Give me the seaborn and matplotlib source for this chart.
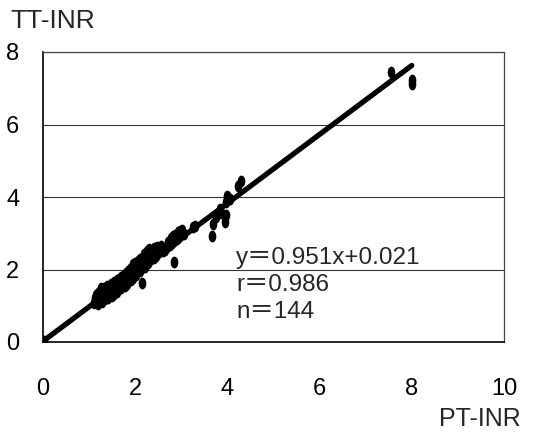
import numpy as np
import pandas as pd
import matplotlib
matplotlib.use('Agg')
import matplotlib.pyplot as plt
import seaborn as sns
from matplotlib.path import Path
from matplotlib.transforms import Affine2D

# PT-INR (x) vs TT-INR (y)
pt_inr = [
    1.10, 1.12, 1.15, 1.15, 1.18, 1.20, 1.20, 1.22, 1.23, 1.25,
    1.25, 1.27, 1.28, 1.30, 1.30, 1.32, 1.33, 1.35, 1.35, 1.37,
    1.38, 1.40, 1.40, 1.42, 1.43, 1.45, 1.45, 1.47, 1.48, 1.50,
    1.50, 1.52, 1.53, 1.55, 1.55, 1.57, 1.58, 1.60, 1.60, 1.62,
    1.63, 1.65, 1.65, 1.67, 1.68, 1.70, 1.70, 1.72, 1.73, 1.75,
    1.75, 1.77, 1.78, 1.80, 1.80, 1.82, 1.83, 1.85, 1.85, 1.87,
    1.88, 1.90, 1.90, 1.92, 1.93, 1.95, 1.95, 1.97, 1.98, 2.00,
    2.00, 2.02, 2.03, 2.05, 2.05, 2.07, 2.08, 2.10, 2.10, 2.12,
    2.15, 2.15, 2.17, 2.18, 2.20, 2.20, 2.22, 2.25, 2.25, 2.27,
    2.28, 2.30, 2.30, 2.32, 2.35, 2.35, 2.37, 2.40, 2.40, 2.42,
    2.45, 2.45, 2.48, 2.50, 2.52, 2.55, 2.57, 2.60, 2.62, 2.65,
    2.70, 2.72, 2.75, 2.77, 2.80, 2.82, 2.85, 2.85, 2.87, 2.90,
    2.92, 2.95, 2.97, 3.00, 3.02, 3.05, 3.25, 3.30,
    3.66, 3.68, 3.75, 3.85, 3.87, 3.95, 3.97, 3.98, 4.00, 4.05,
    4.24, 4.30,
    7.55, 8.00, 8.00, 0.02,
]
tt_inr = [
    1.08, 1.22, 1.12, 1.30, 1.15, 1.36, 1.06, 1.22, 1.42, 1.16,
    1.48, 1.28, 1.10, 1.40, 1.22, 1.50, 1.28, 1.18, 1.44, 1.32,
    1.55, 1.28, 1.46, 1.22, 1.52, 1.38, 1.30, 1.48, 1.60, 1.40,
    1.28, 1.54, 1.66, 1.42, 1.33, 1.58, 1.48, 1.70, 1.38, 1.52,
    1.64, 1.46, 1.74, 1.55, 1.62, 1.80, 1.48, 1.66, 1.56, 1.84,
    1.60, 1.72, 1.54, 1.90, 1.68, 1.76, 1.60, 1.96, 1.78, 1.70,
    2.02, 1.84, 1.72, 2.08, 1.88, 1.76, 2.14, 1.94, 1.84, 2.18,
    1.96, 1.86, 2.08, 2.24, 1.95, 2.12, 2.00, 2.30, 1.96, 2.14,
    1.64, 2.05, 2.34, 2.15, 2.24, 2.44, 2.08, 2.32, 2.50, 2.18,
    2.36, 2.56, 2.24, 2.44, 2.28, 2.52, 2.38, 2.60, 2.32, 2.46,
    2.56, 2.38, 2.62, 2.45, 2.58, 2.50, 2.66, 2.52, 2.60, 2.55,
    2.62, 2.76, 2.68, 2.86, 2.72, 2.92, 2.22, 2.78, 2.96, 2.85,
    3.04, 2.90, 3.06, 2.95, 3.10, 2.98, 3.17, 3.20,
    2.92, 3.25, 3.45, 3.67, 3.55, 3.30, 3.50, 3.86, 4.03, 3.95,
    4.30, 4.44,
    7.45, 7.22, 7.12, 0.02,
]

# regression line from the figure's annotation
slope = 0.951
intercept = 0.021
fit_x = [0.0, 8.0]

x_ticks = [0, 2, 4, 6, 8, 10]
y_ticks = [0, 2, 4, 6, 8]

df = pd.DataFrame({'PT-INR': pt_inr, 'TT-INR': tt_inr})
fit_df = pd.DataFrame({'x': fit_x})
fit_df['y'] = slope * fit_df['x'] + intercept

sns.set_style('white')
plt.rcParams['font.family'] = ['Liberation Sans', 'Noto Sans CJK JP', 'DejaVu Sans']

fig = plt.figure(figsize=(5.33, 4.32), dpi=100)
ax = fig.add_axes([43 / 533, 1 - 342 / 432, 461 / 533, 290 / 432])

# upright oval dots, like the original
oval = Path.unit_circle().transformed(Affine2D().scale(0.65, 1.0))

sns.lineplot(data=fit_df, x='x', y='y', ax=ax, color='black', linewidth=3.8,
             solid_capstyle='round', zorder=3)
sns.scatterplot(data=df, x='PT-INR', y='TT-INR', ax=ax, marker=oval, s=72,
                color='black', edgecolor='black', linewidth=0, zorder=4)

ax.set_xlim(0, 10)
ax.set_ylim(0, 8)
ax.set_xticks(x_ticks)
ax.set_yticks(y_ticks)
ax.grid(axis='y', color='#333333', linewidth=0.8)
ax.grid(axis='x', visible=False)

for lab in ax.get_xticklabels() + ax.get_yticklabels():
    lab.set_fontsize(17)
ax.tick_params(axis='x', direction='in', length=6, width=1, pad=26, colors='black')
ax.tick_params(axis='y', length=0, pad=17, colors='black')
ax.set_xlabel('')
ax.set_ylabel('')

for side in ['left', 'bottom']:
    ax.spines[side].set_color('black')
    ax.spines[side].set_linewidth(1.2)
for side in ['top', 'right']:
    ax.spines[side].set_color('#444444')
    ax.spines[side].set_linewidth(0.9)

fig.text(10 / 533, 1 - 21 / 432, 'TT-INR', fontsize=19, ha='left', va='center')
fig.text(521 / 533, 1 - 419 / 432, 'PT-INR', fontsize=18, ha='right', va='center')

stats = 'y\uff1d0.951x+0.021\nr\uff1d0.986\nn\uff1d144'
ax.text(4.19, 2.62, stats, fontsize=17.5, ha='left', va='top', linespacing=1.3,
        family=['Liberation Sans', 'Noto Sans CJK JP'])

fig.savefig('out.png', dpi=100)
